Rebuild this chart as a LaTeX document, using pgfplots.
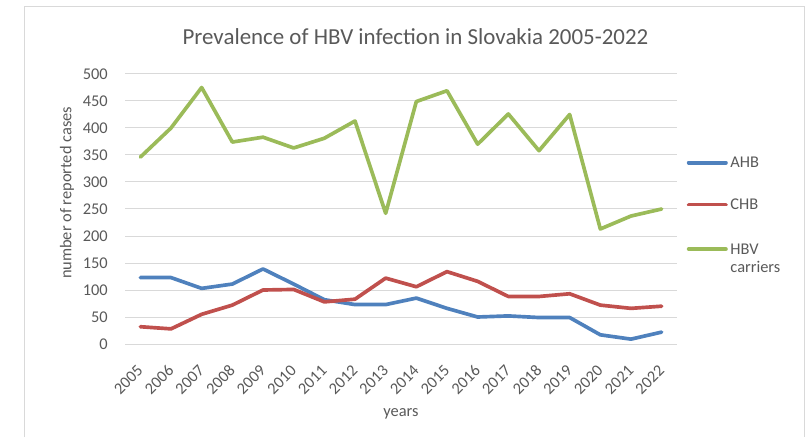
\documentclass[border=0pt]{standalone}
\usepackage{fontspec}
\setmainfont{Carlito}
\usepackage{pgfplots}
\usepackage{pgfplotstable}
\pgfplotsset{compat=1.18}

\definecolor{ahb}{HTML}{4F81BD}
\definecolor{chb}{HTML}{C0504D}
\definecolor{hbv}{HTML}{9BBB59}
\definecolor{gridgray}{HTML}{D9D9D9}
\definecolor{txt}{HTML}{595959}

% year AHB CHB carriers
\pgfplotstableread{
year ahb chb hbv
2005 123  32 346
2006 123  28 400
2007 103  55 475
2008 111  72 374
2009 139 100 383
2010 111 101 363
2011  82  78 381
2012  73  83 413
2013  73 122 242
2014  85 106 449
2015  66 134 469
2016  50 116 370
2017  52  88 426
2018  49  88 358
2019  49  93 425
2020  17  72 213
2021   9  66 237
2022  22  70 250
}\hbvdata

\newcommand{\tickfont}{\fontsize{12.3}{14}\selectfont}

\begin{document}
\begin{tikzpicture}[x=0.75pt,y=0.75pt]
% canvas, 810 x 437 px
\path (0,0) rectangle (810,437);
\draw[gridgray, line width=0.75pt] (24,0) -- (24,430) -- (804,430) -- (804,0);

\begin{axis}[
  at={(93.75pt,69.75pt)}, anchor=south west,
  scale only axis,
  width=414pt, height=202.5pt,
  xmin=2004.5, xmax=2022.5,
  ymin=0, ymax=500,
  ytick distance=50,
  xtick distance=1,
  /pgf/number format/assume math mode=true,
  /pgf/number format/1000 sep={},
  axis line style={draw=none},
  major tick length=0pt,
  ymajorgrids,
  grid style={gridgray, line width=0.75pt},
  tick label style={font=\tickfont, text=txt},
  yticklabel style={anchor=east, inner sep=0pt, xshift=-12.75pt},
  xticklabel style={rotate=45, anchor=east, inner sep=0pt},
  xticklabel shift=18pt,
  legend style={
    at={(axis description cs:1.01,0.712)}, anchor=north west,
    draw=none, fill=none, font=\tickfont, text=txt,
    row sep=18pt,
    cells={anchor=base west},
  },
  legend image code/.code={
    \draw[#1, line width=2.75pt, line cap=round] (0pt,3.9pt) -- (28pt,3.9pt);
  },
  every axis plot/.append style={line width=2.75pt, line cap=round, line join=round, mark=none},
]
\addplot[ahb] table[x=year, y=ahb] {\hbvdata};
\addlegendentry{AHB}
\addplot[chb] table[x=year, y=chb] {\hbvdata};
\addlegendentry{CHB}
\addplot[hbv] table[x=year, y=hbv] {\hbvdata};
\addlegendentry{\begin{tabular}[t]{@{}l@{}}HBV\\carriers\end{tabular}}
\end{axis}

\node[anchor=base, text=txt, font=\fontsize{17.2}{20}\selectfont] at (415.5,392) {Prevalence of HBV infection in Slovakia 2005-2022};
\node[rotate=90, text=txt, font=\tickfont] at (67,244) {number of reported cases};
\node[text=txt, font=\tickfont] at (401,23) {years};
\end{tikzpicture}
\end{document}
